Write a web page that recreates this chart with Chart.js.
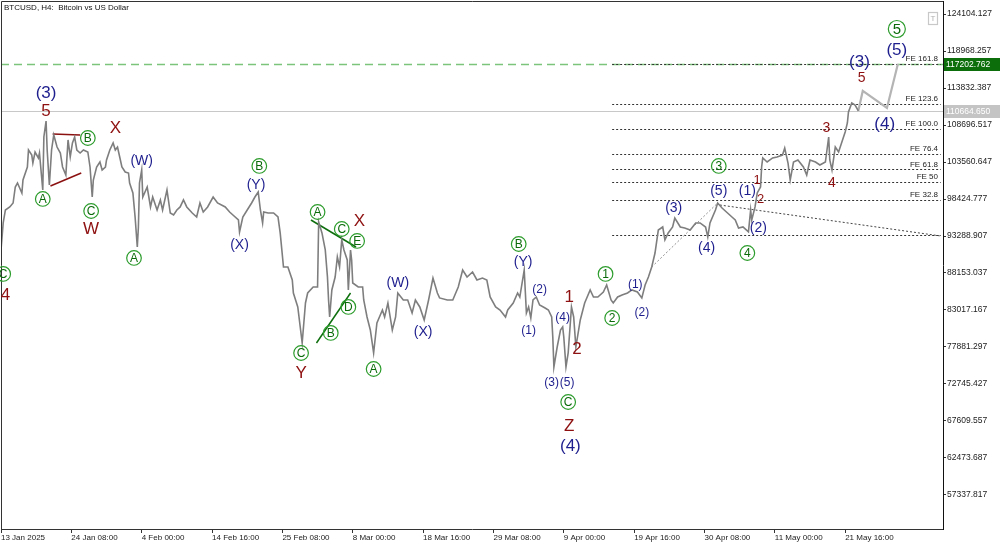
<!DOCTYPE html>
<html>
<head>
<meta charset="utf-8">
<script src="https://cdn.jsdelivr.net/npm/chart.js@4/dist/chart.umd.min.js"></script>
<style>
  body { margin: 0; background: #fff; }
  canvas { display: block; }
</style>
</head>
<body>
<canvas id="Chart1" width="1000" height="545"></canvas>
<script>
// H4 bars counted from 13 Jan 2025 00:00
var xTickIdx = [0, 64, 128, 192, 256, 320, 384, 448, 512, 576, 640, 704, 768];
var xTickLabels = ['13 Jan 2025', '24 Jan 08:00', '4 Feb 00:00', '14 Feb 16:00', '25 Feb 08:00',
  '8 Mar 00:00', '18 Mar 16:00', '29 Mar 08:00', '9 Apr 00:00', '19 Apr 16:00',
  '30 Apr 08:00', '11 May 00:00', '21 May 16:00'];
var yTickValues = [124104.127, 118968.257, 113832.387, 108696.517, 103560.647, 98424.777,
  93288.907, 88153.037, 83017.167, 77881.297, 72745.427, 67609.557, 62473.687, 57337.817];

var priceIdx = [0, 2, 4, 8, 11, 13, 15, 19, 20, 24, 25, 28, 29, 31, 34, 35, 38, 39, 41, 42,
  44, 46, 48, 51, 54, 56, 59, 61, 63, 65, 67, 69, 72, 75, 79, 81, 83, 84, 87, 90,
  92, 95, 96, 99, 102, 104, 106, 108, 110, 113, 116, 117, 120, 122, 124, 125, 126, 128, 129, 133,
  136, 138, 142, 145, 147, 151, 154, 157, 160, 163, 166, 169, 174, 178, 181, 184, 188, 193, 197, 204,
  208, 211, 216, 217, 220, 224, 228, 231, 234, 236, 238, 239, 243, 248, 252, 254, 257, 261, 265, 266,
  270, 274, 277, 279, 284, 288, 289, 292, 295, 297, 298, 299, 301, 304, 306, 308, 310, 312, 315, 316,
  318, 319, 320, 325, 329, 330, 333, 336, 339, 342, 347, 349, 352, 356, 359, 361, 366, 370, 374, 377,
  381, 385, 389, 393, 397, 399, 406, 411, 416, 420, 424, 429, 433, 438, 442, 445, 450, 454, 459, 461,
  466, 470, 472, 476, 478, 480, 482, 484, 487, 490, 495, 498, 501, 502, 503, 506, 509, 511, 512, 514,
  516, 519, 521, 523, 527, 531, 536, 539, 543, 548, 551, 555, 557, 561, 565, 570, 574, 579, 583, 586,
  589, 592, 595, 598, 602, 604, 607, 611, 613, 618, 622, 627, 632, 636, 641, 643, 645, 650, 652, 656,
  661, 665, 668, 671, 675, 680, 682, 683, 686, 688, 691, 692, 693, 697, 702, 706, 711, 713, 716, 718,
  721, 725, 730, 733, 736, 741, 745, 750, 753, 754, 756, 759, 762, 765, 768, 770, 771, 774, 777, 780];
var priceVal = [91350, 95100, 96900, 97320, 97870, 100090, 100650, 99260, 101060, 102870, 105230, 104530, 103420, 104950, 104120, 104810, 99680, 107030, 109250, 105230,
  100370, 105230, 107310, 105640, 104810, 102870, 101760, 106620, 104260, 106200, 107030, 105230, 104810, 105230, 104950, 102870, 98700, 101060, 102870, 103560,
  102450, 102870, 103840, 105230, 106200, 105230, 105640, 104260, 102870, 102170, 102030, 100650, 99260, 95930, 91760, 94540, 100650, 102450, 98700, 100090,
  97320, 98700, 96900, 98290, 96900, 99680, 96480, 96200, 96900, 97320, 98290, 97320, 96480, 95930, 97870, 96620, 97320, 98700, 97870, 97320,
  96620, 96200, 95510, 93850, 95930, 96900, 97870, 98700, 99400, 96900, 95100, 96620, 96480, 96480, 95930, 93710, 88990, 88990, 87180, 85380,
  83440, 78440, 83990, 85380, 86210, 86210, 95230, 93710, 91350, 87600, 84410, 82050, 85800, 87600, 90380, 88990, 92740, 91350, 89960, 85800,
  91350, 89960, 86770, 86210, 86210, 84410, 82050, 80240, 77050, 81220, 83020, 82050, 83990, 80240, 82050, 85380, 84410, 84410, 82600, 84410,
  83440, 81630, 84410, 87460, 85380, 84690, 84410, 84410, 86210, 88570, 87600, 88290, 87180, 87460, 87180, 84820, 83440, 83020, 82050, 83020,
  83990, 85380, 84820, 88570, 82600, 83440, 81910, 84410, 84820, 83710, 83300, 83020, 82050, 79270, 75110, 77880, 80240, 80660, 79270, 75110,
  77050, 83440, 82050, 77880, 81630, 83990, 85800, 84820, 84820, 85520, 86490, 84410, 83990, 84820, 85100, 85380, 85800, 85520, 84690, 86490,
  87600, 88990, 90930, 94120, 94540, 92740, 93710, 94540, 95790, 94540, 94400, 94120, 95100, 95100, 94540, 93150, 95100, 96900, 97870, 97180,
  96480, 95930, 95510, 94400, 94540, 93850, 96900, 95510, 97320, 99260, 100090, 102870, 104120, 103560, 104120, 104260, 104530, 105500, 103420, 101060,
  103560, 103840, 102870, 101760, 103840, 103560, 103150, 103560, 107030, 103840, 102450, 105640, 104950, 106340, 107720, 108980, 110500, 111750, 111470, 110660];

// projected path of waves (3)-(4)-(5)
var forecastIdx = [780, 784, 806, 816];
var forecastVal = [110660, 113420, 111060, 117200];

var currentPrice = 110664.650;
var targetPrice = 117202.762;

// Fibonacci extension levels
var feNames = ['', 'FE 32.8', 'FE 50', 'FE 61.8', 'FE 76.4', 'FE 100.0', 'FE 123.6', 'FE 161.8'];
var fePrices = [93450, 98270, 100790, 102520, 104670, 108130, 111590, 117202.762];
var feFromIdx = 556, feToIdx = 855;

// wave labels: bar index, price, text, kind
var waveLabels = [
  [41, 113140, '(3)', 'nb'], [41, 110640, '5', 'r'], [79, 106890, 'B', 'g'], [104, 108280, 'X', 'r'],
  [128, 103700, '(W)', 'n'], [38, 98430, 'A', 'g'], [82, 96760, 'C', 'g'], [82, 94260, 'W', 'r'],
  [121, 90240, 'A', 'g'], [235, 103010, 'B', 'g'], [232, 100370, '(Y)', 'n'], [217, 92040, '(X)', 'n'],
  [288, 96620, 'A', 'g'], [2, 88020, 'C', 'g'], [4, 85100, '4', 'r'], [273, 77050, 'C', 'g'],
  [273, 74280, 'Y', 'r'], [310, 94260, 'C', 'g'], [326, 95370, 'X', 'r'], [324, 92600, 'E', 'g'],
  [316, 83440, 'D', 'g'], [300, 79830, 'B', 'g'], [339, 74830, 'A', 'g'], [361, 86770, '(W)', 'n'],
  [384, 79970, '(X)', 'n'], [471, 92180, 'B', 'g'], [475, 89680, '(Y)', 'n'], [490, 85800, '(2)', 'ns'],
  [480, 80100, '(1)', 'ns'], [517, 84820, '1', 'r'], [511, 81910, '(4)', 'ns'], [524, 77610, '2', 'r'],
  [501, 72890, '(3)', 'ns'], [515, 72890, '(5)', 'ns'], [516, 70250, 'C', 'g'], [517, 66920, 'Z', 'r'],
  [518, 64140, '(4)', 'nb'], [550, 88020, '1', 'g'], [556, 81910, '2', 'g'], [577, 86490, '(1)', 'ns'],
  [583, 82600, '(2)', 'ns'], [815, 122020, '5', 'gb'], [815, 119110, '(5)', 'nb'], [781, 117440, '(3)', 'nb'],
  [783, 115220, '5', 'rm'], [804, 108840, '(4)', 'nb'], [751, 108280, '3', 'rm'], [756, 100650, '4', 'rm'],
  [653, 103010, '3', 'g'], [653, 99540, '(5)', 'n'], [679, 99540, '(1)', 'n'], [688, 101060, '1', 'rs'],
  [691, 98430, '2', 'rs'], [612, 97180, '(3)', 'n'], [642, 91630, '(4)', 'n'], [679, 90930, '4', 'g'],
  [689, 94400, '(2)', 'n']
];

// drawn trend lines: [idx1, price1, idx2, price2, colour, dash, width]
var trendLines = [
  [47, 107450, 72, 107310, '#8b1010', [], 1.5],
  [45, 100230, 73, 102030, '#8b1010', [], 1.5],
  [282, 95510, 323, 91760, '#0e6e0e', [], 1.5],
  [287, 78440, 318, 85380, '#0e6e0e', [], 1.5],
  [592, 88990, 652, 97870, '#909090', [2, 2], 1],
  [654, 97590, 855, 93290, '#444444', [2, 2], 1]
];

var NAVY = '#1e1e8e', RED = '#8e1010', FONT = '"Liberation Sans", Arial, sans-serif';
var kinds = {
  nb: { size: 17, color: NAVY }, n: { size: 14, color: NAVY }, ns: { size: 12, color: NAVY },
  r: { size: 17, color: RED }, rm: { size: 14, color: RED }, rs: { size: 13, color: RED }
};

var overlay = {
  id: 'overlay',
  beforeDatasetsDraw: function (chart) {
    var ctx = chart.ctx, a = chart.chartArea, x = chart.scales.x, y = chart.scales.y;
    ctx.save();
    ctx.beginPath();
    ctx.rect(a.left, a.top, a.right - a.left, a.bottom - a.top);
    ctx.clip();

    // current price
    var cy = Math.round(y.getPixelForValue(currentPrice)) + 0.5;
    ctx.strokeStyle = '#c8c8c8';
    ctx.lineWidth = 1;
    ctx.beginPath(); ctx.moveTo(a.left, cy); ctx.lineTo(a.right, cy); ctx.stroke();

    // target level
    var ty = Math.round(y.getPixelForValue(targetPrice)) + 0.5;
    ctx.strokeStyle = '#7cc47c';
    ctx.lineWidth = 1.4;
    ctx.setLineDash([8, 5]);
    ctx.beginPath(); ctx.moveTo(a.left, ty); ctx.lineTo(a.right, ty); ctx.stroke();

    // FE levels
    ctx.setLineDash([2, 2]);
    ctx.strokeStyle = '#333';
    ctx.lineWidth = 1;
    var x1 = x.getPixelForValue(feFromIdx), x2 = x.getPixelForValue(feToIdx);
    fePrices.forEach(function (p) {
      var py = Math.round(y.getPixelForValue(p)) + 0.5;
      ctx.beginPath(); ctx.moveTo(x1, py); ctx.lineTo(x2, py); ctx.stroke();
    });

    trendLines.forEach(function (t) {
      ctx.strokeStyle = t[4];
      ctx.setLineDash(t[5]);
      ctx.lineWidth = t[6];
      ctx.beginPath();
      ctx.moveTo(x.getPixelForValue(t[0]), y.getPixelForValue(t[1]));
      ctx.lineTo(x.getPixelForValue(t[2]), y.getPixelForValue(t[3]));
      ctx.stroke();
    });
    ctx.restore();
  },
  afterDraw: function (chart) {
    var ctx = chart.ctx, a = chart.chartArea, x = chart.scales.x, y = chart.scales.y;
    ctx.save();

    // frame
    ctx.strokeStyle = '#333';
    ctx.lineWidth = 1;
    ctx.beginPath();
    ctx.moveTo(a.left + 0.5, a.bottom); ctx.lineTo(a.left + 0.5, a.top + 0.5); ctx.lineTo(a.right, a.top + 0.5);
    ctx.stroke();

    // title
    ctx.fillStyle = '#111';
    ctx.font = '8px ' + FONT;
    ctx.textAlign = 'left';
    ctx.textBaseline = 'middle';
    ctx.fillText('BTCUSD, H4:  Bitcoin vs US Dollar', 4, 8);

    // FE labels
    ctx.font = '8px ' + FONT;
    ctx.textAlign = 'right';
    ctx.textBaseline = 'bottom';
    ctx.fillStyle = '#222';
    fePrices.forEach(function (p, i) {
      if (feNames[i]) ctx.fillText(feNames[i], a.right - 5, y.getPixelForValue(p) - 1);
    });

    // wave labels
    ctx.textBaseline = 'middle';
    ctx.textAlign = 'center';
    waveLabels.forEach(function (w) {
      var px = x.getPixelForValue(w[0]), py = y.getPixelForValue(w[1]);
      if (w[3] === 'g' || w[3] === 'gb') {
        var r = w[3] === 'gb' ? 8.5 : 7.3;
        ctx.strokeStyle = '#2c9c2c';
        ctx.lineWidth = 1.2;
        ctx.beginPath(); ctx.arc(px, py, r, 0, Math.PI * 2); ctx.stroke();
        ctx.fillStyle = '#0b6b0b';
        ctx.font = (w[3] === 'gb' ? 15 : 12) + 'px ' + FONT;
        ctx.fillText(w[2], px, py + 0.5);
      } else {
        var k = kinds[w[3]];
        ctx.fillStyle = k.color;
        ctx.font = k.size + 'px ' + FONT;
        ctx.fillText(w[2], px, py);
      }
    });

    // "T" button
    ctx.strokeStyle = '#c8c8c8';
    ctx.strokeRect(928.5, 12.5, 9, 12);
    ctx.fillStyle = '#b0b0b0';
    ctx.font = '8px ' + FONT;
    ctx.fillText('T', 933, 19);

    // price tags on the axis
    function tag(p, bg, txt) {
      var py = Math.round(y.getPixelForValue(p));
      ctx.fillStyle = bg;
      ctx.fillRect(a.right + 1, py - 6, 56, 13);
      ctx.fillStyle = '#fff';
      ctx.font = '8.5px ' + FONT;
      ctx.textAlign = 'left';
      ctx.fillText(txt, a.right + 3, py + 0.5);
    }
    tag(targetPrice, '#0b6e0b', targetPrice.toFixed(3));
    tag(currentPrice, '#c4c4c4', currentPrice.toFixed(3));
    ctx.restore();
  }
};

var ctx1 = document.getElementById('Chart1').getContext('2d');

var Chart1 = new Chart(ctx1, {
  type: 'line',
  data: {
    datasets: [{
      data: priceIdx.map(function (v, i) { return { x: v, y: priceVal[i] }; }),
      borderColor: '#7e7e7e',
      borderWidth: 1.6,
      pointRadius: 0,
      tension: 0
    }, {
      data: forecastIdx.map(function (v, i) { return { x: v, y: forecastVal[i] }; }),
      borderColor: '#b4b4b4',
      borderWidth: 2.2,
      pointRadius: 0,
      tension: 0
    }]
  },
  options: {
    responsive: false,
    animation: false,
    devicePixelRatio: 1,
    layout: { padding: { top: 1, left: 1, right: 0, bottom: 0 } },
    plugins: { legend: { display: false }, tooltip: { enabled: false } },
    scales: {
      x: {
        type: 'linear',
        min: 0,
        max: 857,
        afterBuildTicks: function (s) { s.ticks = xTickIdx.map(function (v) { return { value: v }; }); },
        afterFit: function (s) { s.height = 16; s.paddingLeft = 0; s.paddingRight = 0; },
        grid: { drawOnChartArea: false, tickLength: 4, color: '#333' },
        border: { color: '#333' },
        ticks: {
          autoSkip: false, maxRotation: 0, minRotation: 0, align: 'start', padding: 0,
          color: '#222', font: { family: FONT, size: 8 },
          callback: function (v, i) { return xTickLabels[i]; }
        }
      },
      y: {
        position: 'right',
        min: 52618,
        max: 125909,
        afterBuildTicks: function (s) { s.ticks = yTickValues.map(function (v) { return { value: v }; }); },
        afterFit: function (s) { s.width = 57; s.paddingTop = 0; s.paddingBottom = 0; },
        grid: { drawOnChartArea: false, tickLength: 3, color: '#333' },
        border: { color: '#111' },
        ticks: {
          padding: 1, color: '#222', font: { family: FONT, size: 8.5 },
          callback: function (v) { return v.toFixed(3); }
        }
      }
    }
  },
  plugins: [overlay]
});
</script>
</body>
</html>
